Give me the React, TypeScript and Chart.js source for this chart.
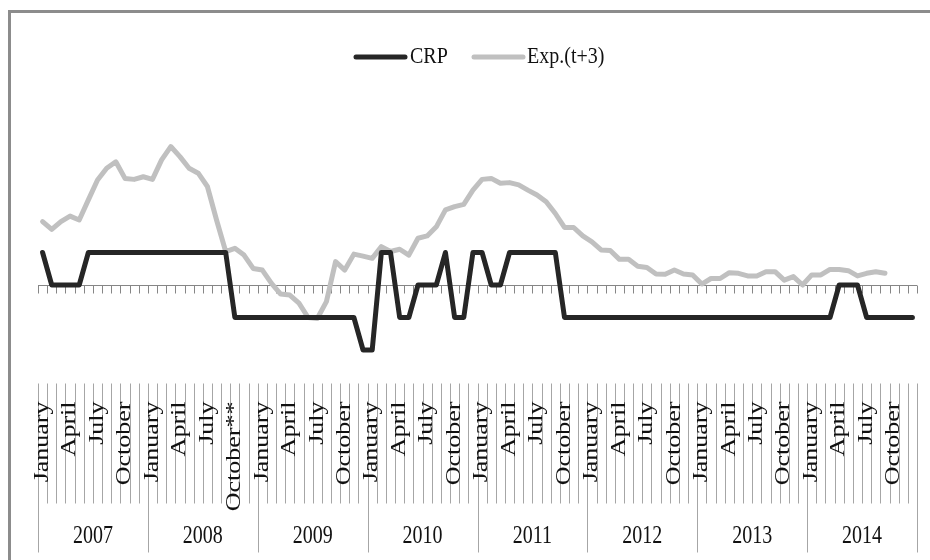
import React, { useEffect, useRef } from 'react';
import { Chart, registerables } from 'chart.js';

Chart.register(...registerables);

const YEARS = ['2007', '2008', '2009', '2010', '2011', '2012', '2013', '2014'];
const MONTHS = ['January', 'February', 'March', 'April', 'May', 'June', 'July', 'August', 'September', 'October', 'November', 'December'];
const SHOWN_MONTHS = ['January', 'April', 'July', 'October'];
const MARKED_LABEL = 'October 2008';
const MARK = '**';

const SERIES_NAMES = ['CRP', 'Exp.(t+3)'];

const CRP = [
  1, 0, 0, 0, 0, 1, 1, 1, 1, 1, 1, 1,
  1, 1, 1, 1, 1, 1, 1, 1, 1, -1, -1, -1,
  -1, -1, -1, -1, -1, -1, -1, -1, -1, -1, -1, -2,
  -2, 1, 1, -1, -1, 0, 0, 0, 1, -1, -1, 1,
  1, 0, 0, 1, 1, 1, 1, 1, 1, -1, -1, -1,
  -1, -1, -1, -1, -1, -1, -1, -1, -1, -1, -1, -1,
  -1, -1, -1, -1, -1, -1, -1, -1, -1, -1, -1, -1,
  -1, -1, -1, 0, 0, 0, -1, -1, -1, -1, -1, -1,
];

const EXP = [
  1.95, 1.71, 1.95, 2.12, 2.0, 2.62, 3.23, 3.59, 3.79, 3.28, 3.25, 3.33,
  3.25, 3.85, 4.26, 3.95, 3.59, 3.44, 3.03, 2.0, 1.03, 1.13, 0.92, 0.51,
  0.46, 0.05, -0.28, -0.31, -0.56, -1.0, -1.03, -0.51, 0.72, 0.46, 0.95, 0.89,
  0.82, 1.18, 1.03, 1.1, 0.92, 1.44, 1.51, 1.79, 2.31, 2.41, 2.48, 2.92,
  3.25, 3.28, 3.13, 3.15, 3.08, 2.92, 2.77, 2.56, 2.2, 1.77, 1.77, 1.51,
  1.33, 1.08, 1.06, 0.79, 0.79, 0.58, 0.54, 0.34, 0.33, 0.46, 0.34, 0.31,
  0.03, 0.2, 0.2, 0.38, 0.36, 0.28, 0.28, 0.41, 0.41, 0.15, 0.26, 0.0,
  0.31, 0.31, 0.48, 0.48, 0.44, 0.28, 0.36, 0.41, 0.36, null, null, null,
];

const Y_MIN = -3;
const Y_MAX = 6;

const CATEGORIES = YEARS.flatMap((y) => MONTHS.map((m) => `${m} ${y}`));

const COLORS = { crp: '#262626', exp: '#c0c0c0', axis: '#868686', grid: '#a6a6a6', text: '#111111', frame: '#8c8c8c' };
const FONT = '"Liberation Serif", "Times New Roman", serif';

function stretchedText(ctx: CanvasRenderingContext2D, text: string, x: number, y: number, sy: number) {
  ctx.save();
  ctx.translate(x, y);
  ctx.scale(1, sy);
  ctx.fillText(text, 0, 0);
  ctx.restore();
}

const excelAxisPlugin = {
  id: 'excelAxis',
  beforeDatasetsDraw(chart: any) {
    const { ctx, scales } = chart;
    const xs = scales.x;
    const ys = scales.y;
    const n = CATEGORIES.length;
    const step = xs.getPixelForValue(1) - xs.getPixelForValue(0);
    const left = xs.getPixelForValue(0) - step / 2;
    const y0 = Math.round(ys.getPixelForValue(0)) + 0.5;
    ctx.save();
    ctx.strokeStyle = COLORS.axis;
    ctx.lineWidth = 1;
    ctx.beginPath();
    ctx.moveTo(left, y0);
    ctx.lineTo(left + n * step, y0);
    for (let i = 0; i <= n; i++) {
      const px = Math.round(left + i * step) + 0.5;
      ctx.moveTo(px, y0);
      ctx.lineTo(px, y0 + 8);
    }
    ctx.stroke();
    ctx.restore();
  },
  afterDraw(chart: any) {
    const { ctx, scales, chartArea } = chart;
    const xs = scales.x;
    const n = CATEGORIES.length;
    const step = xs.getPixelForValue(1) - xs.getPixelForValue(0);
    const left = xs.getPixelForValue(0) - step / 2;
    const tableTop = chartArea.bottom + 1;
    const monthBottom = tableTop + 120;
    const yearBottom = tableTop + 169;

    ctx.save();
    // frame
    ctx.strokeStyle = COLORS.frame;
    ctx.lineWidth = 3;
    ctx.strokeRect(9.5, 11.5, 1200, 1200);

    // category separators
    ctx.lineWidth = 1;
    ctx.strokeStyle = COLORS.grid;
    ctx.beginPath();
    for (let i = 0; i <= n; i++) {
      const px = Math.round(left + i * step) + 0.5;
      const isYear = i % 12 === 0;
      ctx.moveTo(px, tableTop);
      ctx.lineTo(px, isYear ? yearBottom : monthBottom);
    }
    ctx.stroke();

    // month labels
    ctx.fillStyle = COLORS.text;
    ctx.font = `20px ${FONT}`;
    ctx.textAlign = 'right';
    ctx.textBaseline = 'middle';
    CATEGORIES.forEach((cat, i) => {
      const month = MONTHS[i % 12];
      if (!SHOWN_MONTHS.includes(month)) return;
      const label = month + (cat === MARKED_LABEL ? MARK : '');
      const cx = xs.getPixelForValue(i);
      ctx.save();
      ctx.translate(cx, tableTop + 18);
      ctx.rotate(-Math.PI / 2);
      ctx.scale(1.3, 1);
      ctx.fillText(label, 0, 0);
      ctx.restore();
    });

    // year labels
    ctx.textAlign = 'center';
    YEARS.forEach((yr, k) => {
      const cx = left + (k * 12 + 6) * step;
      stretchedText(ctx, yr, cx, tableTop + 153, 1.3);
    });

    // legend
    const legendY = 57;
    const items = [
      { name: SERIES_NAMES[0], color: COLORS.crp, x0: 356, x1: 405, tx: 410 },
      { name: SERIES_NAMES[1], color: COLORS.exp, x0: 474, x1: 523, tx: 527 },
    ];
    ctx.textAlign = 'left';
    ctx.font = `20px ${FONT}`;
    items.forEach((it) => {
      ctx.strokeStyle = it.color;
      ctx.lineWidth = 5;
      ctx.lineCap = 'round';
      ctx.beginPath();
      ctx.moveTo(it.x0, legendY);
      ctx.lineTo(it.x1, legendY);
      ctx.stroke();
      ctx.fillStyle = COLORS.text;
      stretchedText(ctx, it.name, it.tx, legendY, 1.2);
    });
    ctx.restore();
  },
};

export default function App() {
  const ref = useRef<HTMLCanvasElement | null>(null);

  useEffect(() => {
    if (!ref.current) return;
    const chart = new Chart(ref.current, {
      type: 'line',
      data: {
        labels: CATEGORIES,
        datasets: [
          {
            label: SERIES_NAMES[0],
            data: CRP,
            borderColor: COLORS.crp,
            backgroundColor: COLORS.crp,
            borderWidth: 5,
            pointRadius: 0,
            tension: 0,
            borderJoinStyle: 'round',
            borderCapStyle: 'round',
            order: 1,
          },
          {
            label: SERIES_NAMES[1],
            data: EXP,
            borderColor: COLORS.exp,
            backgroundColor: COLORS.exp,
            borderWidth: 5,
            pointRadius: 0,
            tension: 0,
            borderJoinStyle: 'round',
            borderCapStyle: 'round',
            spanGaps: false,
            order: 2,
          },
        ],
      },
      options: {
        responsive: false,
        animation: false,
        devicePixelRatio: 1,
        layout: { padding: { left: 38, right: 13, top: 90, bottom: 177.5 } },
        scales: {
          x: { type: 'category', display: false, offset: true },
          y: { display: false, min: Y_MIN, max: Y_MAX },
        },
        plugins: {
          legend: { display: false },
          tooltip: { enabled: false },
        },
      },
      plugins: [excelAxisPlugin],
    } as any);
    return () => chart.destroy();
  }, []);

  return (
    <div style={{ position: 'absolute', left: 0, top: 0, width: 930, height: 560, background: '#fff' }}>
      <canvas ref={ref} width={930} height={560} style={{ display: 'block', width: 930, height: 560 }} />
    </div>
  );
}
